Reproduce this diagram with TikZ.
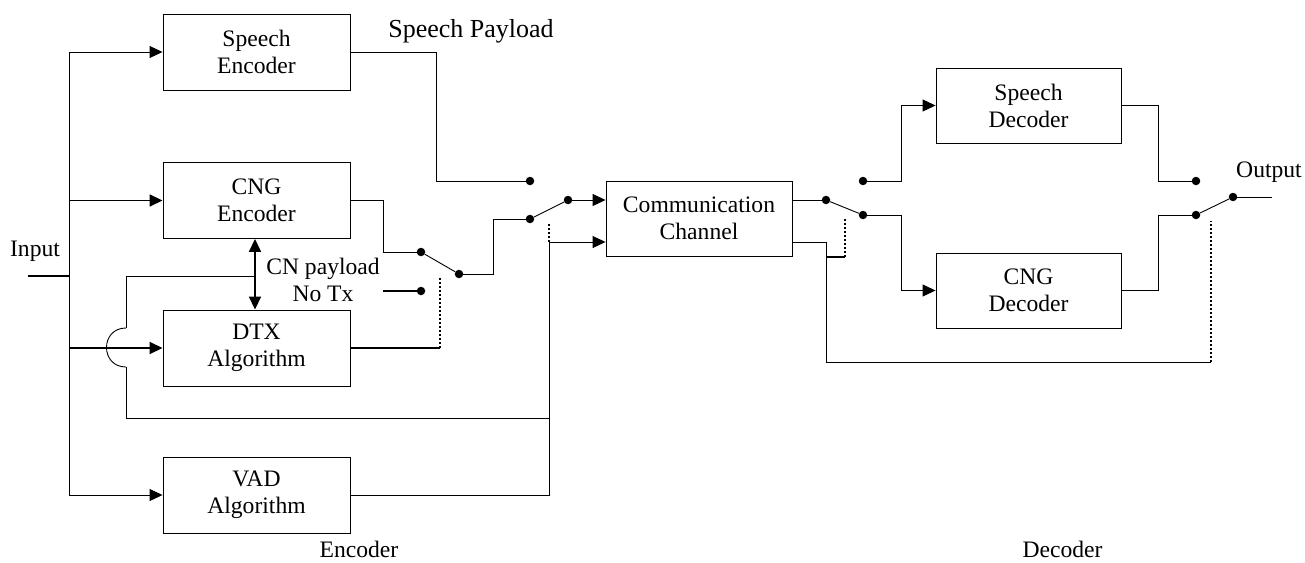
\documentclass[tikz,border=0pt]{standalone}
\usepackage{fontspec}
\setmainfont{Liberation Serif}
\usetikzlibrary{arrows.meta}
\begin{document}
\begin{tikzpicture}[x=1pt,y=-1pt,
  every node/.style={font=\fontsize{23.6}{27}\selectfont},
  ln/.style={line width=0.9pt,draw=black},
  tk/.style={line width=1.7pt,draw=black},
  dt/.style={line width=1.7pt,draw=black,dash pattern=on 2pt off 2pt},
  arr/.style={-{Triangle[length=13pt,width=12pt]}},
  blk/.style={draw,line width=0.9pt,minimum width=187pt,minimum height=76pt,align=center,inner sep=0pt},
  dotn/.style={circle,fill=black,inner sep=0pt,minimum size=8.5pt},
  lbl/.style={align=center,inner sep=0pt}]
\useasboundingbox (0,0) rectangle (1305,562);
% boxes
\node[blk] (SE) at (256.5,52) {Speech\\Encoder};
\node[blk] (CE) at (256.5,200.5) {CNG\\Encoder};
\node[blk] (DTX) at (256.5,348) {DTX\\Algorithm};
\node[blk] (VAD) at (256.5,495) {VAD\\Algorithm};
\node[blk,minimum width=186pt,minimum height=75pt] (CC) at (699,218.5) {Communication\\Channel};
\node[blk,minimum width=185pt,minimum height=75pt] (SD) at (1028.5,105.5) {Speech\\Decoder};
\node[blk,minimum width=185pt,minimum height=75pt] (CD) at (1028.5,290.5) {CNG\\Decoder};
% labels
\node[lbl] (inlbl) at (35,251) {Input};
\node[lbl,font=\fontsize{26}{30}\selectfont,anchor=base] (splbl) at (471,37) {Speech Payload};
\node[lbl] (cnlbl) at (323,280) {CN payload\\No Tx};
\node[lbl] (outlbl) at (1269,172) {Output};
\node[lbl,anchor=base] (enclbl) at (359,557.5) {Encoder};
\node[lbl,anchor=base] (declbl) at (1062.5,557.5) {Decoder};
% dots
\node[dotn] (d1) at (530,181) {};
\node[dotn] (d2) at (421,252) {};
\node[dotn] (d3) at (459,274) {};
\node[dotn] (d4) at (421,291) {};
\node[dotn] (d5) at (530,219) {};
\node[dotn] (d6) at (568,200) {};
\node[dotn] (d7) at (826,200) {};
\node[dotn] (d8) at (863,215) {};
\node[dotn] (d9) at (863,181) {};
\node[dotn] (d10) at (1196,181) {};
\node[dotn] (d11) at (1196,215) {};
\node[dotn] (d12) at (1233,197) {};
% coordinates
\coordinate (inL) at (28,276);
\coordinate (bus) at (69,276);
\coordinate (busT) at (69,52);
\coordinate (busB) at (69,495);
\coordinate (seb) at (436,181);
\coordinate (ceb) at (383,252);
\coordinate (ntx) at (383,291);
\coordinate (dtxj) at (440,348);
\coordinate (dtxt) at (440,278);
\coordinate (m1) at (493,274);
\coordinate (vj) at (549,242);
\coordinate (vt) at (549,224);
\coordinate (lpj) at (549,418);
\coordinate (dax) at (255,276);
\coordinate (lp1) at (126,276);
\coordinate (lp2) at (126,328);
\coordinate (lp3) at (126,367);
\coordinate (lp4) at (126,418);
\coordinate (sdb) at (901,181);
\coordinate (cdb) at (901,215);
\coordinate (sdo) at (1158,181);
\coordinate (cdo) at (1158,215);
\coordinate (outR) at (1272,197);
\coordinate (cl) at (826,242);
\coordinate (clb) at (826,362);
\coordinate (fb) at (1211,362);
\coordinate (fbt) at (1211,221);
\coordinate (cs) at (826,257);
\coordinate (cs2) at (845,257);
\coordinate (cs2t) at (845,219);
% input bus
\draw[tk] (inL) -- (bus);
\draw[ln] (busT) -- (busB);
\draw[ln,arr] (busT) -- (SE.west);
\draw[tk,arr] (bus |- CE.west) -- (CE.west);
\draw[tk,arr] (bus |- DTX.west) -- (DTX.west);
\draw[ln,arr] (busB) -- (VAD.west);
% encoder outputs
\draw[ln] (SE.east) -| (seb) -- (d1);
\draw[ln] (CE.east) -| (ceb) -- (d2);
\draw[ln] (d2) -- (d3);
\draw[tk] (ntx) -- (d4);
\draw[tk] (DTX.east) -- (dtxj);
\draw[dt] (dtxj) -- (dtxt);
\draw[ln] (d3) -- (m1) |- (d5);
\draw[ln] (d5) -- (d6);
\draw[ln,arr] (d6) -- (CC.west |- d6);
\draw[ln] (VAD.east) -| (vj);
\draw[ln,arr] (vj) -- (CC.west |- vj);
\draw[dt] (vj) -- (vt);
% CN double arrow and loop
\draw[tk,{Triangle[length=13pt,width=12pt]}-{Triangle[length=13pt,width=12pt]}] (dax |- CE.south) -- (dax |- DTX.north);
\draw[ln] (dax) -- (lp1) -- (lp2);
\draw[ln] (lp2) .. controls (100,328) and (100,367) .. (lp3);
\draw[ln] (lp3) -- (lp4) -- (lpj);
% decoder side
\draw[ln] (CC.east |- d7) -- (d7);
\draw[ln] (d7) -- (d8);
\draw[ln,arr] (d9) -- (sdb) |- (SD.west);
\draw[ln,arr] (d8) -- (cdb) |- (CD.west);
\draw[ln] (SD.east) -| (sdo) -- (d10);
\draw[ln] (CD.east) -| (cdo) -- (d11);
\draw[ln] (d11) -- (d12);
\draw[ln] (d12) -- (outR);
\draw[ln] (CC.east |- cl) -- (cl) -- (clb) -- (fb);
\draw[dt] (fb) -- (fbt);
\draw[tk] (cs) -- (cs2);
\draw[dt] (cs2) -- (cs2t);
\end{tikzpicture}
\end{document}
